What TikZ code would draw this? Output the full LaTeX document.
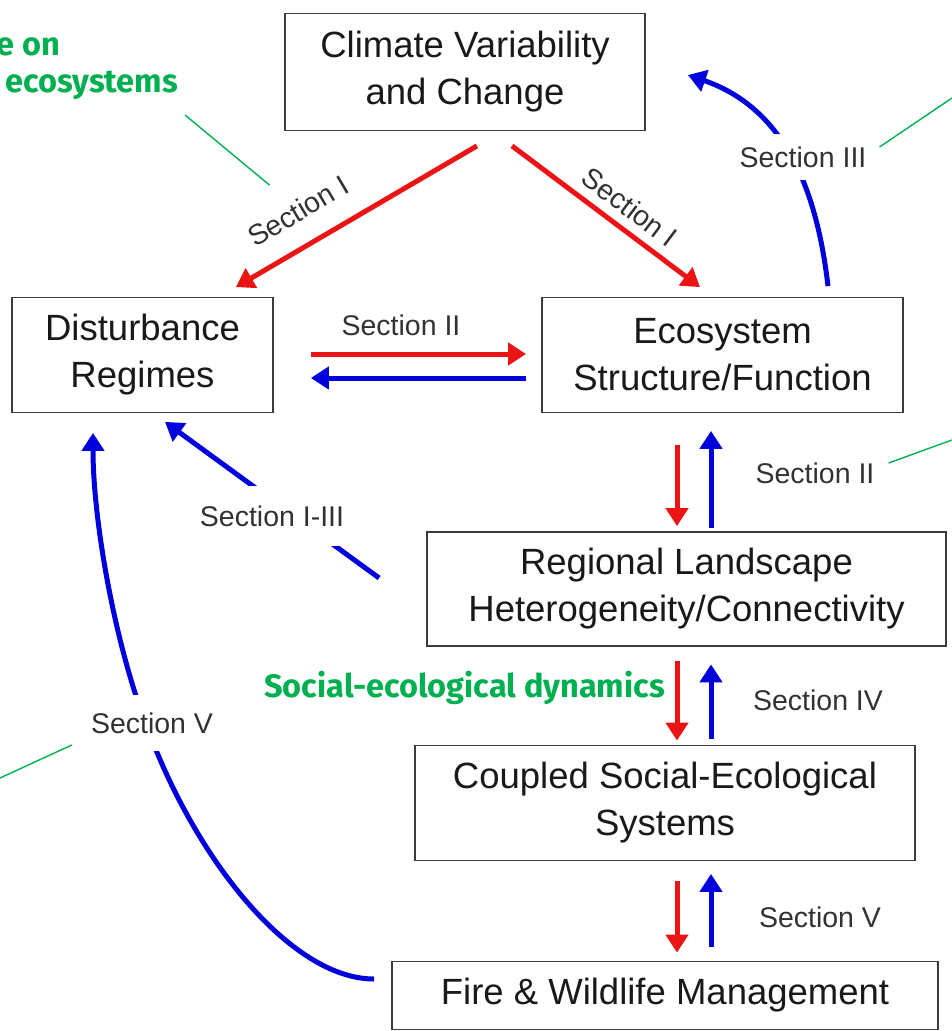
\documentclass[tikz,border=0pt]{standalone}
\usepackage{fontspec}
\setmainfont{Liberation Sans}
\newfontfamily\greenfont{Fira Sans}
\usetikzlibrary{arrows.meta,calc}
\definecolor{rd}{RGB}{235,20,20}
\definecolor{bl}{RGB}{0,0,220}
\definecolor{gr}{RGB}{0,176,80}
\definecolor{bx}{RGB}{60,60,60}
\definecolor{lb}{RGB}{50,50,50}
\begin{document}
\begin{tikzpicture}[x=1pt,y=-1pt,
  box/.style={draw=bx,line width=1.8pt,align=center,inner sep=0pt,
    font=\fontsize{36.5}{47}\selectfont,text=black!90},
  lab/.style={font=\fontsize{28.5}{32}\selectfont,text=lb,inner sep=2pt},
  gap/.style={lab,fill=white},
  ra/.style={draw=rd,line width=5pt,-{Triangle[width=22pt,length=18pt]}},
  ba/.style={draw=bl,line width=5pt,-{Triangle[width=22pt,length=18pt]}},
  gline/.style={draw=gr,line width=1.4pt},
  gtext/.style={text=gr,font=\greenfont\bfseries\fontsize{32.5}{36}\selectfont,inner sep=0pt}]
\useasboundingbox (0,0) rectangle (952,1031);
% boxes
\node[box,minimum width=360pt,minimum height=117pt] (clim) at (465,72) {Climate Variability\\and Change};
\node[box,minimum width=261pt,minimum height=115pt] (dist) at (142.5,355) {Disturbance\\Regimes};
\node[box,minimum width=361pt,minimum height=115pt] (eco) at (722.5,355) {Ecosystem\\Structure/Function};
\node[box,minimum width=519pt,minimum height=114pt] (reg) at (686.5,589) {Regional Landscape\\Heterogeneity/Connectivity};
\node[box,minimum width=500pt,minimum height=115pt] (cpl) at (665,803) {Coupled Social-Ecological\\Systems};
\node[box,minimum width=546pt,minimum height=68pt] (fire) at (665,995.5) {Fire \& Wildlife Management};
% red arrows from climate
\draw[ra] ($(clim.south)+(12,14.5)$) -- ($(dist.north east)+(-38,-9.5)$);
\draw[ra] ($(clim.south)+(47,14.5)$) -- ($(eco.north)+(-22.5,-9.5)$);
\node[lab,rotate=30.6] (s1a) at (298,211) {Section I};
\node[lab,rotate=-37] (s1b) at (630,207) {Section I};
% section II horizontal
\draw[ra] ($(dist.east)+(37,-1)$) -- ($(eco.west)+(-15,-1)$);
\draw[ba] ($(eco.west)+(-15,23)$) -- ($(dist.east)+(37,23)$);
\node[lab] (s2a) at (401,325) {Section II};
% eco <-> regional
\draw[ra] ($(eco.south)+(-45.5,31.5)$) -- ($(reg.north)+(-9.5,-5)$);
\draw[ba] ($(reg.north)+(24.5,-3)$) -- ($(eco.south)+(-11.5,17.5)$);
\node[lab] (s2b) at (815,473) {Section II};
% regional <-> coupled
\draw[ra] ($(reg.south)+(-9.5,14.5)$) -- ($(cpl.north)+(12,-4)$);
\draw[ba] ($(cpl.north)+(46,-6)$) -- ($(reg.south)+(24.5,17.5)$);
\node[lab] (s4) at (818,700) {Section IV};
% coupled <-> fire
\draw[ra] ($(cpl.south)+(12,19.5)$) -- ($(fire.north)+(12,-8)$);
\draw[ba] ($(fire.north)+(46,-14)$) -- ($(cpl.south)+(46,12.5)$);
\node[lab] (s5b) at (820,917) {Section V};
% section III curve
\draw[ba] ($(eco.north)+(105.5,-10.5)$) .. controls (818,200) and (790,110) .. ($(clim.east)+(42,3)$);
\node[gap,inner ysep=13pt,inner xsep=3pt] (s3) at (803,157) {Section III};
% section I-III
\draw[ba] ($(reg.west)+(-47,-11)$) -- ($(dist.south)+(22.5,8.5)$);
\node[gap,inner ysep=20pt,inner xsep=3pt] (s13) at (272,516) {Section I-III};
% section V curve
\draw[ba] ($(fire.west)+(-17,-16.5)$) .. controls (295,979) and (203,870) .. (152,740)
  .. controls (115,650) and (93,520) .. ($(dist.south)+(-49.5,19.5)$);
\node[gap,inner ysep=18pt,inner xsep=3pt] (s5a) at (152,723) {Section V};
% green annotations
\node[gtext,anchor=east] (g1) at (60,47) {e on};
\node[gtext,anchor=east] (g2) at (178,85) {ecosystems};
\node[gtext,anchor=east] (g3) at (665,688) {Social-ecological dynamics};
\coordinate (e1) at (185,115);
\coordinate (e2) at (952,98);
\coordinate (e3) at (952,440);
\coordinate (e4) at (0,778);
\draw[gline] (e1) -- ($(s1a.north)+(-22,-15)$);
\draw[gline] ($(s3.east)+(10,-10)$) -- (e2);
\draw[gline] ($(s2b.east)+(12,-10)$) -- (e3);
\draw[gline] ($(s5a.west)+(-16,22)$) -- (e4);
\end{tikzpicture}
\end{document}
